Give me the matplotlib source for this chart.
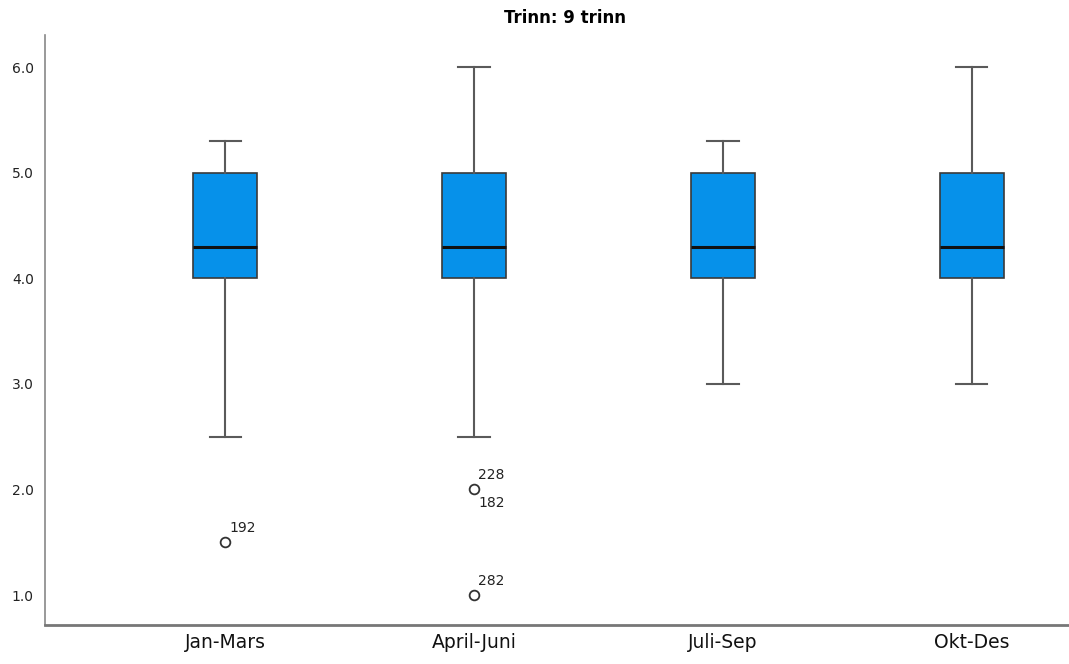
import matplotlib
matplotlib.use("Agg")
from matplotlib import pyplot as plt

# kvartaler og boksplott-verdier lest av figuren
kategorier = ["Jan-Mars", "April-Juni", "Juli-Sep", "Okt-Des"]
nedre_whisker = [2.5, 2.5, 3.0, 3.0]
q1 = [4.0, 4.0, 4.0, 4.0]
median = [4.3, 4.3, 4.3, 4.3]
q3 = [5.0, 5.0, 5.0, 5.0]
ovre_whisker = [5.3, 6.0, 5.3, 6.0]
uteliggere = [[1.5], [2.0, 1.0], [], []]
uteligger_id = [[("192", "opp")], [("228", "opp"), ("182", "ned"), ("282", "opp")], [], []]
uteligger_verdi = [[1.5], [2.0, 2.0, 1.0], [], []]

stats = []
for i, navn in enumerate(kategorier):
    stats.append({
        "label": navn,
        "whislo": nedre_whisker[i],
        "q1": q1[i],
        "med": median[i],
        "q3": q3[i],
        "whishi": ovre_whisker[i],
        "fliers": uteliggere[i],
    })

fig = plt.figure(figsize=(10.69, 6.64), dpi=100)
ax = fig.add_axes([0.042, 0.0587, 0.958, 0.888])

ax.bxp(stats, positions=[1, 2, 3, 4], widths=0.257, patch_artist=True,
       boxprops=dict(facecolor="#0691EA", edgecolor="#3a3a3a", linewidth=1.2),
       medianprops=dict(color="#111111", linewidth=2.2),
       whiskerprops=dict(color="#5a5a5a", linewidth=1.5),
       capprops=dict(color="#5a5a5a", linewidth=1.5),
       capwidths=0.125,
       flierprops=dict(marker="o", markerfacecolor="white", markeredgecolor="#333333",
                       markersize=7, markeredgewidth=1.3, linestyle="none"))

for i in range(len(kategorier)):
    for (lbl, retning), v in zip(uteligger_id[i], uteligger_verdi[i]):
        dy = 5 if retning == "opp" else -5
        va = "bottom" if retning == "opp" else "top"
        ax.annotate(lbl, (i + 1, v), xytext=(3, dy), textcoords="offset points",
                    ha="left", va=va, fontsize=10, color="#222222")

ax.set_xlim(0.276, 4.39)
ax.set_ylim(0.716, 6.30)
ax.set_yticks([1.0, 2.0, 3.0, 4.0, 5.0, 6.0])
ax.set_yticklabels(["1.0", "2.0", "3.0", "4.0", "5.0", "6.0"], fontsize=10, color="#222222")
ax.set_xticklabels(kategorier, fontsize=13.5, color="#111111")
ax.tick_params(axis="both", length=0)
ax.tick_params(axis="y", pad=8)
ax.tick_params(axis="x", pad=6)

for s in ["top", "right"]:
    ax.spines[s].set_visible(False)
ax.spines["left"].set_color("#888888")
ax.spines["bottom"].set_color("#777777")
ax.spines["left"].set_linewidth(1.2)
ax.spines["bottom"].set_linewidth(2.0)

ax.set_title("Trinn: 9 trinn", fontsize=12, fontweight="bold", pad=9, x=0.508)

fig.savefig("out.png", dpi=100)
